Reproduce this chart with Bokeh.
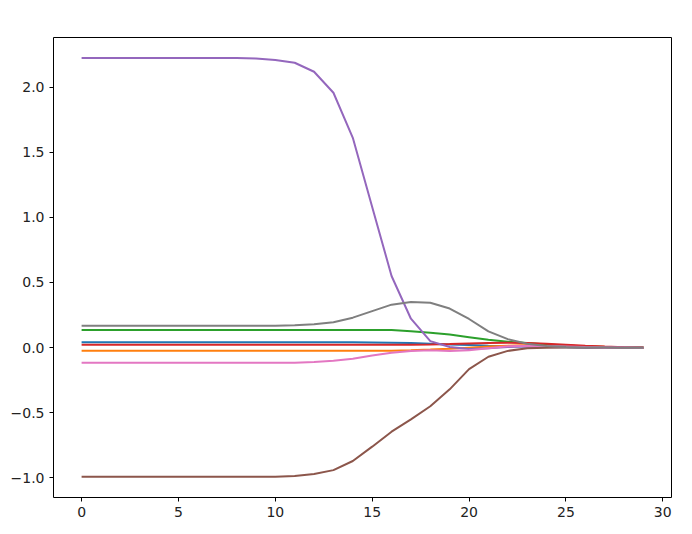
from bokeh.plotting import figure
from bokeh.models import Range1d, FixedTicker, CustomJSTickFormatter
from bokeh.embed import file_html
from bokeh.resources import INLINE

x = list(range(30))

s_blue = [0.041]*15 + [0.040, 0.038, 0.035, 0.030, 0.025, 0.020, 0.015, 0.011, 0.008, 0.005, 0.003, 0.002, 0.001, 0.0005, 0.0]
s_orange = [-0.023]*17 + [-0.02, -0.015, -0.008, 0.0, 0.008, 0.015, 0.02, 0.02, 0.016, 0.011, 0.006, 0.003, 0.001]
s_green = [0.135]*17 + [0.125, 0.115, 0.10, 0.08, 0.06, 0.045, 0.035, 0.025, 0.016, 0.009, 0.005, 0.002, 0.001]
s_red = [0.023]*18 + [0.025, 0.028, 0.032, 0.036, 0.038, 0.036, 0.030, 0.022, 0.014, 0.008, 0.003, 0.001]
s_purple = [2.222]*9 + [2.218, 2.208, 2.186, 2.117, 1.956, 1.61, 1.08, 0.55, 0.222, 0.05, 0.005,
                        -0.01, -0.005, 0.005, 0.01, 0.008, 0.005, 0.002, 0.001, 0.0, 0.0]
s_brown = [-0.99]*11 + [-0.985, -0.97, -0.94, -0.87, -0.76, -0.645, -0.55, -0.45, -0.32, -0.165,
                        -0.07, -0.025, -0.005, 0.0, 0.002, 0.002, 0.001, 0.0, 0.0]
s_pink = [-0.115]*12 + [-0.11, -0.10, -0.085, -0.06, -0.04, -0.025, -0.02, -0.025, -0.02, -0.005,
                        0.01, 0.015, 0.012, 0.008, 0.004, 0.002, 0.001, 0.0]
s_gray = [0.168]*11 + [0.172, 0.18, 0.195, 0.23, 0.28, 0.33, 0.35, 0.345, 0.30, 0.22, 0.125,
                       0.065, 0.03, 0.012, 0.005, 0.002, 0.001, 0.0, 0.0]

series = [s_blue, s_orange, s_green, s_red, s_purple, s_brown, s_pink, s_gray]
colors = ["#1f77b4", "#ff7f0e", "#2ca02c", "#d62728", "#9467bd", "#8c564b", "#e377c2", "#7f7f7f"]

x_ticks = [0, 5, 10, 15, 20, 25, 30]
y_ticks = [-1.0, -0.5, 0.0, 0.5, 1.0, 1.5, 2.0]

p = figure(width=692, height=534, output_backend="svg", toolbar_location=None,
           x_range=Range1d(-1.45, 30.45), y_range=Range1d(-1.15, 2.38),
           min_border_left=53, min_border_right=21, min_border_top=37, min_border_bottom=37)

for ys, c in zip(series, colors):
    p.line(x, ys, line_color=c, line_width=2)

p.xgrid.visible = False
p.ygrid.visible = False
p.outline_line_color = "black"
p.outline_line_width = 1
p.outline_line_alpha = 1
p.background_fill_color = "white"
p.border_fill_color = "white"

p.xaxis.ticker = FixedTicker(ticks=x_ticks)
p.yaxis.ticker = FixedTicker(ticks=y_ticks)
p.xaxis.formatter = CustomJSTickFormatter(code="return tick.toFixed(0);")
p.yaxis.formatter = CustomJSTickFormatter(code="return tick.toFixed(1).replace('-', '\u2212');")

for ax in [p.xaxis[0], p.yaxis[0]]:
    ax.axis_line_color = None
    ax.major_tick_in = 0
    ax.major_tick_out = 4
    ax.major_tick_line_color = "black"
    ax.minor_tick_line_color = None
    ax.major_label_text_font = "DejaVu Sans"
    ax.major_label_text_font_size = "14px"
    ax.major_label_text_color = "#222222"
    ax.major_label_standoff = 5

open("out.html", "w").write(file_html(p, INLINE))
